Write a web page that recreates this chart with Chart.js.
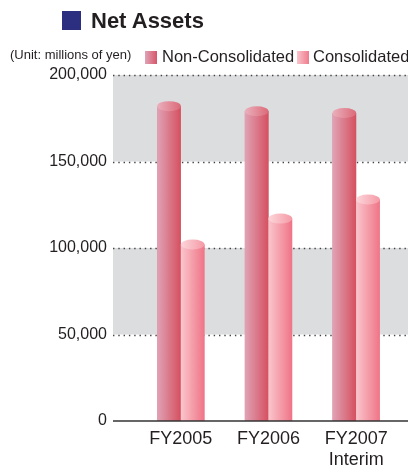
<!DOCTYPE html>
<html>
<head>
<meta charset="utf-8">
<script src="https://cdn.jsdelivr.net/npm/chart.js@4/dist/chart.umd.min.js"></script>
<style>
  html, body { margin: 0; padding: 0; background: #fff; }
  body { width: 408px; height: 465px; position: relative; overflow: hidden;
         font-family: "Liberation Sans", Arial, sans-serif; color: #231f20; }
  #wrap { position: absolute; left: 0; top: 0; width: 408px; height: 465px; }
  .abs { position: absolute; white-space: nowrap; }
  #sq { left: 62px; top: 11px; width: 19px; height: 19px; background: #2c2f80; }
  #title { left: 91px; top: 7px; font-size: 22px; font-weight: bold; line-height: 28px; }
  #unit { left: 10px; top: 47px; font-size: 13px; line-height: 16px; }
  .sw { top: 51px; width: 12px; height: 13px; }
  #sw1 { left: 145px; background: linear-gradient(to right, #e0a3b6, #d8566a); }
  #sw2 { left: 297px; background: linear-gradient(to right, #f9c4ca, #f07b8d); }
  .lt { top: 46px; font-size: 16.5px; line-height: 20px; }
</style>
</head>
<body>
<div id="wrap"><canvas id="chart" width="408" height="465"></canvas></div>
<div id="sq" class="abs"></div>
<div id="title" class="abs">Net Assets</div>
<div id="unit" class="abs">(Unit: millions of yen)</div>
<div id="sw1" class="abs sw"></div>
<div class="abs lt" style="left:162px">Non-Consolidated</div>
<div id="sw2" class="abs sw"></div>
<div class="abs lt" style="left:313px">Consolidated</div>
<script>
/* === Data === */
const categories = [["FY2005"], ["FY2006"], ["FY2007", "Interim"]];
const nonConsolidated = [182000, 179000, 178000];
const consolidated = [102000, 117000, 128000];
const yTicks = [0, 50000, 100000, 150000, 200000];
const grayBands = [[150000, 200000], [50000, 100000]];

/* === Colours === */
const STYLE = [
  { left: '#e0a3b6', right: '#d5505f', topL: '#eab0bd', topR: '#dc6a78' },
  { left: '#fac6cc', right: '#ef7487', topL: '#fcd6da', topR: '#f59aa6' }
];

/* === Background bands, dotted grid, baseline === */
const bandsPlugin = {
  id: 'bands',
  beforeDatasetsDraw(chart) {
    const { ctx, scales: { y } } = chart;
    const x0 = 113, x1 = 408;
    ctx.save();
    ctx.fillStyle = '#dcdddf';
    grayBands.forEach(([a, b]) => {
      const ya = y.getPixelForValue(a), yb = y.getPixelForValue(b);
      ctx.fillRect(x0, yb, x1 - x0, ya - yb);
    });
    ctx.strokeStyle = '#444';
    ctx.lineWidth = 1.4;
    ctx.setLineDash([1.4, 3.9]);
    yTicks.slice(1).forEach(v => {
      const py = Math.round(y.getPixelForValue(v)) + 0.5;
      ctx.beginPath();
      ctx.moveTo(x0, py);
      ctx.lineTo(x1, py);
      ctx.stroke();
    });
    ctx.restore();
  },
  afterDatasetsDraw(chart) {
    const { ctx, scales: { y } } = chart;
    ctx.save();
    // cylinder shading over each bar
    chart.data.datasets.forEach((ds, di) => {
      const s = STYLE[di];
      chart.getDatasetMeta(di).data.forEach(bar => {
        const l = bar.x - bar.width / 2, r = bar.x + bar.width / 2;
        const g = ctx.createLinearGradient(l, 0, r, 0);
        g.addColorStop(0, s.left);
        g.addColorStop(1, s.right);
        ctx.fillStyle = g;
        ctx.fillRect(l, bar.y, bar.width, bar.base - bar.y);
        const gt = ctx.createLinearGradient(l, 0, r, 0);
        gt.addColorStop(0, s.topL);
        gt.addColorStop(1, s.topR);
        ctx.fillStyle = gt;
        ctx.beginPath();
        ctx.ellipse(bar.x, bar.y, bar.width / 2, 5, 0, 0, Math.PI * 2);
        ctx.fill();
      });
    });
    // baseline
    const py = y.getPixelForValue(0);
    ctx.strokeStyle = '#333';
    ctx.lineWidth = 1.5;
    ctx.beginPath();
    ctx.moveTo(113, py);
    ctx.lineTo(408, py);
    ctx.stroke();
    ctx.restore();
  }
};

new Chart(document.getElementById('chart'), {
  type: 'bar',
  data: {
    labels: categories,
    datasets: [
      { label: 'Non-Consolidated', data: nonConsolidated, backgroundColor: '#dc7a8a' },
      { label: 'Consolidated', data: consolidated, backgroundColor: '#f59eaa' }
    ]
  },
  options: {
    responsive: false,
    animation: false,
    events: [],
    layout: { padding: { top: 75, right: 8, bottom: 0, left: 0 } },
    plugins: { legend: { display: false }, tooltip: { enabled: false } },
    datasets: { bar: { categoryPercentage: 0.54, barPercentage: 1 } },
    scales: {
      x: {
        grid: { display: false, drawTicks: false },
        border: { display: false },
        ticks: { color: '#231f20', padding: 7, font: { family: "'Liberation Sans', Arial", size: 18 } },
        afterFit: s => { s.height = 44; }
      },
      y: {
        min: 0, max: 200000,
        grid: { display: false, drawTicks: false },
        border: { display: false },
        ticks: {
          stepSize: 50000, padding: 30, color: '#231f20',
          font: { family: "'Liberation Sans', Arial", size: 16 },
          callback: v => v.toLocaleString('en-US')
        },
        afterFit: s => { s.width = 137; }
      }
    }
  },
  plugins: [bandsPlugin]
});
</script>
</body>
</html>
